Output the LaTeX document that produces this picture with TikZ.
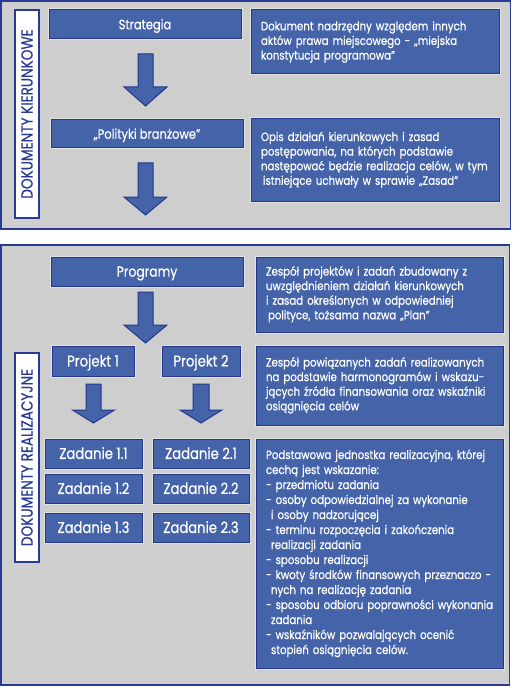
\documentclass[tikz,border=0pt]{standalone}
\usepackage{fontspec}
\setmainfont{Poppins}[FakeStretch=0.85,FakeBold=0.6]
\definecolor{bfill}{RGB}{69,99,168}
\definecolor{bdr}{RGB}{35,56,140}
\definecolor{lblue}{RGB}{40,58,150}
\definecolor{panel}{RGB}{206,206,206}
\definecolor{halo}{RGB}{226,226,226}
\newcommand\blkarrow[6]{% cx, top, headstart, tip, half shaft, half head
  \draw[arr] (#1-#5,#2) -- (#1+#5,#2) -- (#1+#5,#3) -- (#1+#6,#3) -- (#1,#4)
    -- (#1-#6,#3) -- (#1-#5,#3) -- cycle;}
\newcommand\dtext[1]{\begin{tabular}{@{}l@{}}#1\end{tabular}}
\begin{document}
\begin{tikzpicture}[x=1pt,y=-1pt,
  frame/.style={draw=lblue, fill=panel, line width=1.2pt},
  basebox/.style={draw=bdr, fill=bfill, line width=1pt, text=white, inner sep=0pt,
    preaction={draw=halo, line width=3pt}},
  tbox/.style={basebox, font=\fontsize{13.5}{16}\selectfont, text height=11.5pt, text depth=2pt},
  bigbox/.style={basebox, font=\fontsize{15.5}{18}\selectfont, text height=13pt, text depth=2.1pt},
  dbox/.style={basebox, align=left, inner xsep=10pt, inner ysep=0pt,
    font=\fontsize{12}{14.6}\selectfont},
  lbl/.style={draw=lblue, fill=white, line width=1.3pt, text=lblue, rotate=90,
    inner sep=0pt, font=\fontsize{16}{18}\selectfont},
  arr/.style={fill=bfill, draw=bdr, line width=1pt, line join=miter}]
\useasboundingbox (0,0) rectangle (516,687);
\fill[white] (0,0) rectangle (516,687);
% panels
\draw[frame] (1,1) rectangle (510.5,229);
\draw[frame] (1,245) rectangle (509.5,685);
% top panel
\node[lbl, minimum width=208, minimum height=24] (l1) at (27,114) {DOKUMENTY KIERUNKOWE};
\node[tbox, minimum width=192, minimum height=29] (strat) at (145,24.5) {Strategia};
\node[tbox, minimum width=192, minimum height=28] (pol) at (147,134) {„Polityki branżowe"};
\node[dbox, text width=228, minimum height=64] (d1) at (375,42)
  {\dtext{Dokument nadrzędny względem innych\\aktów prawa miejscowego - „miejska\\konstytucja programowa"}};
\node[dbox, text width=228, minimum height=82] (d2) at (375,160)
  {\dtext{Opis działań kierunkowych i zasad\\postępowania, na których podstawie\\następować będzie realizacja celów, w tym\\\hspace*{2pt}istniejące uchwały w sprawie „Zasad"}};
\blkarrow{145.5}{54}{87}{106}{7.5}{21.5}
\blkarrow{145.5}{163}{197}{215}{7.5}{21.5}
% bottom panel
\node[lbl, minimum width=209, minimum height=24] (l2) at (27,457.5) {DOKUMENTY REALIZACYJNE};
\node[tbox, minimum width=192, minimum height=29, font=\fontsize{14.5}{17}\selectfont, text height=12.2pt] (prog) at (147,271.5) {Programy};
\node[dbox, text width=227, minimum height=75] (d3) at (379.5,294.5)
  {\dtext{Zespół projektów i zadań zbudowany z\\uwzględnieniem działań kierunkowych\\i zasad określonych w odpowiedniej\\\hspace*{2pt}polityce, tożsama nazwa „Plan"}};
\node[bigbox, minimum width=82, minimum height=30] (p1) at (93,361) {Projekt 1};
\node[bigbox, minimum width=78, minimum height=30] (p2) at (201,361) {Projekt 2};
\node[dbox, text width=227, minimum height=79] (d4) at (379.5,385.5)
  {\dtext{Zespół powiązanych zadań realizowanych\\na podstawie harmonogramów i wskazu-\\jących źródła finansowania oraz wskaźniki\\osiągnięcia celów}};
\blkarrow{145.5}{292}{325}{343}{7.5}{21.5}
\blkarrow{93.5}{384}{410}{423}{7.5}{21}
\blkarrow{201}{384}{410}{423}{8}{21}
\node[bigbox, minimum width=97, minimum height=29] (z11) at (93.5,453.5) {Zadanie 1.1};
\node[bigbox, minimum width=97, minimum height=29] (z12) at (93.5,488.5) {Zadanie 1.2};
\node[bigbox, minimum width=97, minimum height=29] (z13) at (93.5,527.5) {Zadanie 1.3};
\node[bigbox, minimum width=96, minimum height=29] (z21) at (201,453.5) {Zadanie 2.1};
\node[bigbox, minimum width=96, minimum height=29] (z22) at (201,488.5) {Zadanie 2.2};
\node[bigbox, minimum width=96, minimum height=29] (z23) at (201,527.5) {Zadanie 2.3};
\node[dbox, text width=227, minimum height=229, font=\fontsize{12}{15}\selectfont] (d5) at (379.5,553.5)
  {\dtext{Podstawowa jednostka realizacyjna, której\\cechą jest wskazanie:\\- przedmiotu zadania\\- osoby odpowiedzialnej za wykonanie\\\hspace*{5pt}i osoby nadzorującej\\- terminu rozpoczęcia i zakończenia\\\hspace*{5pt}realizacji zadania\\- sposobu realizacji\\- kwoty środków finansowych przeznaczo -\\\hspace*{5pt}nych na realizację zadania\\- sposobu odbioru poprawności wykonania\\\hspace*{5pt}zadania\\- wskaźników pozwalających ocenić\\\hspace*{5pt}stopień osiągnięcia celów.}};
\end{tikzpicture}
\end{document}
